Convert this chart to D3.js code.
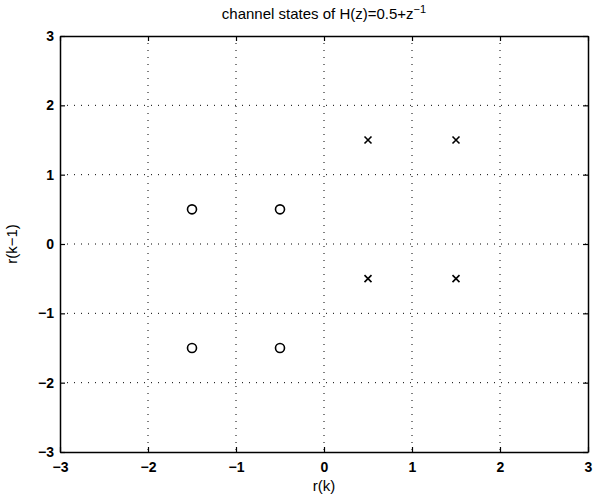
<!DOCTYPE html>
<html><head><meta charset="utf-8">
<script src="https://cdn.jsdelivr.net/npm/d3@7"></script>
<style>
body{margin:0;background:#fff;}
text{font-family:"Liberation Sans",Arial,Helvetica,sans-serif;fill:#000;}
</style></head>
<body><svg id="c" width="595" height="500"></svg>
<script>
const circleX = [-1.5, -0.5, -1.5, -0.5];
const circleY = [0.5, 0.5, -1.5, -1.5];
const crossX = [0.5, 1.5, 0.5, 1.5];
const crossY = [1.5, 1.5, -0.5, -0.5];
const xTicks = [-3, -2, -1, 0, 1, 2, 3];
const yTicks = [-3, -2, -1, 0, 1, 2, 3];

const svg = d3.select("#c");
const L = 60, R = 588, T = 36, B = 452;
const x = d3.scaleLinear().domain([-3, 3]).range([L, R]);
const y = d3.scaleLinear().domain([-3, 3]).range([B, T]);
const fmt = d => d < 0 ? "\u2212" + Math.abs(d) : String(d);

// grid
const g = svg.append("g");
g.selectAll(".gx").data(xTicks.filter(d => d > -3 && d < 3)).enter().append("line")
  .attr("x1", d => x(d)).attr("x2", d => x(d)).attr("y1", T).attr("y2", B)
  .attr("stroke", "#000").attr("stroke-width", 1).attr("stroke-dasharray", "1,6");
g.selectAll(".gy").data(yTicks.filter(d => d > -3 && d < 3)).enter().append("line")
  .attr("y1", d => y(d)).attr("y2", d => y(d)).attr("x1", L).attr("x2", R)
  .attr("stroke", "#000").attr("stroke-width", 1).attr("stroke-dasharray", "1,6");

// axes with inward ticks
const xa = svg.append("g").attr("transform", `translate(0,${B})`)
  .call(d3.axisBottom(x).tickValues(xTicks).tickFormat(fmt).tickSizeInner(-5).tickSizeOuter(0).tickPadding(10));
const xt = svg.append("g").attr("transform", `translate(0,${T})`)
  .call(d3.axisTop(x).tickValues(xTicks).tickFormat("").tickSizeInner(-5).tickSizeOuter(0));
const ya = svg.append("g").attr("transform", `translate(${L},0)`)
  .call(d3.axisLeft(y).tickValues(yTicks).tickFormat(fmt).tickSizeInner(-5).tickSizeOuter(0).tickPadding(6));
const yr = svg.append("g").attr("transform", `translate(${R},0)`)
  .call(d3.axisRight(y).tickValues(yTicks).tickFormat("").tickSizeInner(-5).tickSizeOuter(0));
[xa, xt, ya, yr].forEach(a => {
  a.select(".domain").attr("stroke", "#000").attr("stroke-width", 1.5);
  a.selectAll(".tick line").attr("stroke", "#000").attr("stroke-width", 1.2);
  a.selectAll("text").style("font-family", "'Liberation Sans',Arial,sans-serif").style("font-size", "14px").attr("fill", "#000").style("font-weight", "bold");
});

// markers
svg.append("g").selectAll("circle").data(circleX).enter().append("circle")
  .attr("cx", d => x(d)).attr("cy", (d, i) => y(circleY[i])).attr("r", 4.5)
  .attr("fill", "none").attr("stroke", "#000").attr("stroke-width", 1.6);
svg.append("g").selectAll("path").data(crossX).enter().append("path")
  .attr("d", (d, i) => {
    const cx = x(d), cy = y(crossY[i]), s = 3.5;
    return `M${cx - s},${cy - s}L${cx + s},${cy + s}M${cx - s},${cy + s}L${cx + s},${cy - s}`;
  })
  .attr("stroke", "#000").attr("stroke-width", 1.6);

// labels
const title = svg.append("text").attr("x", (L + R) / 2).attr("y", 19).attr("text-anchor", "middle")
  .style("font-size", "15px");
title.append("tspan").text("channel states of H(z)=0.5+z");
title.append("tspan").attr("dy", -6).style("font-size", "11px").text("\u22121");

svg.append("text").attr("x", (L + R) / 2).attr("y", 491).attr("text-anchor", "middle")
  .style("font-size", "15px").text("r(k)");
svg.append("text").attr("transform", `translate(17,${(T + B) / 2}) rotate(-90)`).attr("text-anchor", "middle")
  .style("font-size", "15px").text("r(k\u22121)");
</script></body></html>
